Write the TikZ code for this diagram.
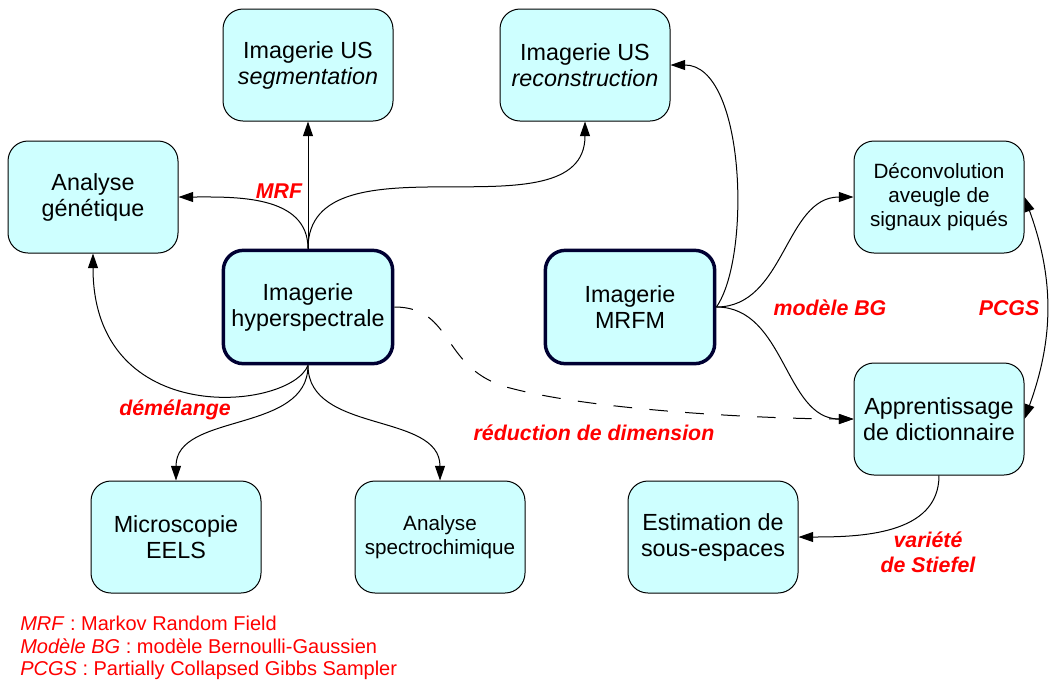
\documentclass[tikz,border=0pt]{standalone}
\usepackage{fontspec}
\setmainfont{Liberation Sans}
\usetikzlibrary{arrows.meta}
\definecolor{boxfill}{RGB}{206,255,255}
\definecolor{navyline}{RGB}{0,0,50}
\begin{document}
\begin{tikzpicture}[x=0.75pt,y=-0.75pt,
  box/.style={draw=black, line width=0.75pt, fill=boxfill, rounded corners=15pt,
    minimum width=127.5pt, minimum height=84pt, align=center, inner sep=2pt,
    font=\fontsize{17.5}{19.5}\selectfont},
  thickbox/.style={box, draw=navyline, line width=2.6pt, minimum width=127pt, minimum height=85pt},
  smallbox/.style={box, font=\fontsize{15.5}{18}\selectfont},
  tip/.tip={Triangle[length=11pt,width=7.5pt]},
  arr/.style={-tip, line width=0.75pt},
  lbl/.style={text=red, align=center, font=\fontsize{16}{18.8}\bfseries\itshape\selectfont},
  legend/.style={text=red, anchor=base west, inner sep=0pt, font=\fontsize{15}{17}\selectfont},
]
\fill[white] (0,0) rectangle (1058,687);
\useasboundingbox (0,0) rectangle (1058,687);

\node[box] (seg) at (308,65) {Imagerie US\\\textit{segmentation}};
\node[box] (rec) at (585,65) {Imagerie US\\\textit{reconstruction}};
\node[box] (gen) at (93,197) {Analyse\\génétique};
\node[thickbox] (hyp) at (308,307) {Imagerie\\hyperspectrale};
\node[thickbox] (mrfm) at (630,307) {Imagerie\\MRFM};
\node[smallbox] (dec) at (939,197) {Déconvolution\\aveugle de\\signaux piqués};
\node[box] (app) at (939,419) {Apprentissage\\de dictionnaire};
\node[box] (eels) at (176,537) {Microscopie\\EELS};
\node[smallbox] (spec) at (440,537) {Analyse\\spectrochimique};
\node[box] (est) at (713,537) {Estimation de\\sous-espaces};
\coordinate (dmid) at (510,388);

\draw[arr] (hyp.north) -- (seg.south);
\draw[arr] (hyp.north) to[out=90,in=0] (gen.east);
\draw[arr] (hyp.north) to[out=90,in=-90] (rec.south);
\draw[arr] (hyp.south) .. controls +(-18,45) and +(0,177) .. (gen.south);
\draw[arr] (hyp.south) to[out=-90,in=90] (eels.north);
\draw[arr] (hyp.south) to[out=-90,in=90] (spec.north);
\draw[arr, dash pattern=on 14pt off 13pt] (hyp.east) .. controls +(61,0) and (440,370) .. (dmid)
   .. controls (600,412) and +(-74,0) .. (app.west);
\draw[arr] (mrfm.east) .. controls +(35,-50) and +(75,0) .. (rec.east);
\draw[arr] (mrfm.east) to[out=0,in=180] (dec.west);
\draw[arr] (mrfm.east) to[out=0,in=180] (app.west);
\draw[tip-tip, line width=0.75pt] (dec.east) to[bend left=20] (app.east);
\draw[arr] (app.south) to[out=-90,in=0] (est.east);

\node[lbl] (lmrf) at (279,191) {MRF};
\node[lbl] (ldem) at (175,410) {démélange};
\node[lbl] (lred) at (594,433) {réduction de dimension};
\node[lbl] (lbg) at (830,308) {modèle BG};
\node[lbl] (lpcgs) at (1009,308) {PCGS};
\node[lbl] (lstief) at (928,552) {variété\\de Stiefel};

\node[legend] (leg1) at (20,630) {\textit{MRF} : Markov Random Field};
\node[legend] (leg2) at (20,653) {\textit{Modèle BG} : modèle Bernoulli-Gaussien};
\node[legend] (leg3) at (20,675) {\textit{PCGS} : Partially Collapsed Gibbs Sampler};
\end{tikzpicture}
\end{document}
